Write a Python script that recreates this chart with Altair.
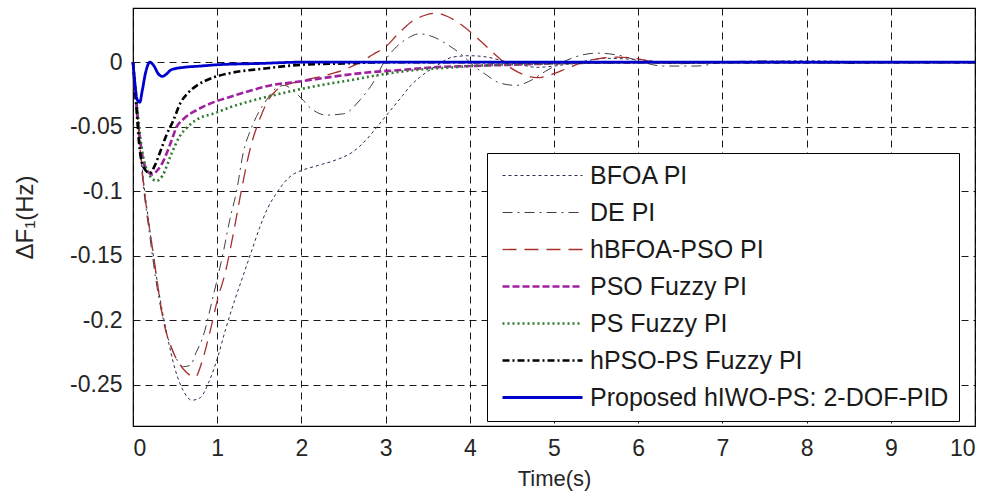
import altair as alt
import pandas as pd

series_names = ["BFOA PI", "DE PI", "hBFOA-PSO PI", "PSO Fuzzy PI",
                "PS Fuzzy PI", "hPSO-PS Fuzzy PI", "Proposed hIWO-PS: 2-DOF-PID"]

bfoa_t = [0, 0.05, 0.1, 0.2, 0.3, 0.4, 0.5, 0.6, 0.7, 0.8, 0.9, 1.0, 1.1, 1.2, 1.3, 1.4,
          1.5, 1.6, 1.7, 1.8, 1.9, 2.0, 2.2, 2.4, 2.6, 2.8, 2.9, 3.0, 3.1, 3.2, 3.3, 3.4,
          3.6, 3.8, 4.0, 4.2, 4.4, 4.6, 4.8, 5.0, 5.3, 5.6, 6.0, 6.5, 7.0, 8.0, 9.0, 10.0]
bfoa_y = [0, -0.03, -0.075, -0.13, -0.175, -0.21, -0.238, -0.255, -0.262, -0.26, -0.248,
          -0.23, -0.207, -0.186, -0.167, -0.148, -0.129, -0.113, -0.102, -0.093, -0.087,
          -0.084, -0.08, -0.076, -0.07, -0.058, -0.05, -0.042, -0.034, -0.026, -0.018,
          -0.012, -0.003, 0.004, 0.005, 0.004, 0.001, -0.002, -0.004, -0.003, 0.0, 0.003,
          0.002, -0.001, 0.0, 0.001, 0.0, 0.0]

de_t = [0, 0.05, 0.1, 0.2, 0.3, 0.4, 0.5, 0.6, 0.68, 0.75, 0.83, 0.95, 1.07, 1.15, 1.23,
        1.31, 1.4, 1.5, 1.6, 1.7, 1.8, 1.9, 2.0, 2.1, 2.3, 2.5, 2.7, 2.85, 3.0, 3.1, 3.25,
        3.4, 3.55, 3.75, 3.9, 4.05, 4.2, 4.35, 4.55, 4.7, 4.9, 5.1, 5.3, 5.5, 5.8, 6.0,
        6.3, 6.7, 7.0, 7.5, 8.0, 8.5, 9.0, 10.0]
de_y = [0, -0.035, -0.08, -0.135, -0.18, -0.21, -0.228, -0.236, -0.235, -0.225, -0.213,
        -0.182, -0.148, -0.122, -0.1, -0.07, -0.052, -0.038, -0.028, -0.02, -0.018, -0.022,
        -0.028, -0.035, -0.041, -0.04, -0.029, -0.016, 0.002, 0.01, 0.018, 0.022, 0.02,
        0.013, 0.006, -0.003, -0.01, -0.016, -0.018, -0.015, -0.007, 0.0, 0.005, 0.007,
        0.005, 0.001, -0.003, -0.003, 0.0, 0.001, 0.0, -0.001, 0.0, 0.0]

hb_t = [0, 0.05, 0.12, 0.24, 0.36, 0.48, 0.6, 0.74, 0.82, 0.91, 1.0, 1.1, 1.2, 1.3, 1.4,
        1.5, 1.6, 1.7, 1.9, 2.1, 2.3, 2.5, 2.7, 2.85, 3.0, 3.15, 3.3, 3.45, 3.6, 3.75, 3.9,
        4.05, 4.2, 4.35, 4.5, 4.65, 4.8, 4.95, 5.15, 5.35, 5.55, 5.75, 5.95, 6.2, 6.5,
        7.0, 8.0, 10.0]
hb_y = [0, -0.04, -0.091, -0.148, -0.2, -0.225, -0.238, -0.244, -0.232, -0.21, -0.185,
        -0.162, -0.13, -0.095, -0.065, -0.045, -0.03, -0.022, -0.016, -0.013, -0.01, -0.006,
        0.0, 0.006, 0.012, 0.022, 0.031, 0.036, 0.038, 0.035, 0.029, 0.021, 0.012, 0.003,
        -0.005, -0.01, -0.012, -0.01, -0.005, 0.0, 0.003, 0.004, 0.003, 0.0, -0.001, 0.0,
        0.0, 0.0]

psof_t = [0, 0.05, 0.1, 0.15, 0.23, 0.3, 0.35, 0.45, 0.52, 0.6, 0.76, 1.0, 1.15, 1.4,
          1.63, 1.98, 2.4, 2.78, 3.2, 3.56, 4.0, 4.5, 5.0, 6.0, 10.0]
psof_y = [0, -0.04, -0.068, -0.082, -0.087, -0.083, -0.078, -0.062, -0.05, -0.044, -0.037,
          -0.03, -0.027, -0.022, -0.018, -0.015, -0.011, -0.008, -0.006, -0.004, -0.003,
          -0.002, -0.001, 0.0, 0.0]

psf_t = [0, 0.05, 0.1, 0.2, 0.28, 0.35, 0.45, 0.55, 0.65, 0.8, 0.95, 1.15, 1.35, 1.71,
         1.98, 2.3, 2.58, 3.0, 3.37, 3.8, 4.3, 5.0, 6.0, 10.0]
psf_y = [0, -0.035, -0.065, -0.088, -0.092, -0.088, -0.072, -0.058, -0.05, -0.043, -0.04,
         -0.035, -0.031, -0.025, -0.021, -0.017, -0.014, -0.009, -0.006, -0.004, -0.002,
         -0.001, 0.0, 0.0]

hpp_t = [0, 0.04, 0.08, 0.13, 0.2, 0.26, 0.32, 0.4, 0.48, 0.56, 0.65, 0.76, 0.95, 1.15,
         1.55, 2.0, 2.5, 3.0, 10.0]
hpp_y = [0, -0.035, -0.068, -0.082, -0.086, -0.08, -0.07, -0.056, -0.045, -0.032, -0.024,
         -0.018, -0.012, -0.0085, -0.005, -0.002, -0.001, 0.0, 0.0]

prop_t = [0, 0.02, 0.05, 0.08, 0.11, 0.15, 0.2, 0.25, 0.3, 0.35, 0.4, 0.45, 0.5, 0.6, 0.8,
          1.0, 1.5, 2.0, 10.0]
prop_y = [0, -0.015, -0.029, -0.031, -0.022, -0.008, 0.0, -0.003, -0.009, -0.011, -0.009,
          -0.006, -0.005, -0.004, -0.003, -0.002, -0.001, 0.0, 0.0]

colors = ["#2a2a55", "#404040", "#a8302c", "#a020a0", "#2e7a2e", "#000000", "#0000cc"]
dashes = [[3, 3], [10, 5, 2, 5], [14, 8], [7, 3], [2, 3], [7, 3, 2, 3], [1, 0]]
widths = [1, 1, 1.3, 2.6, 2.6, 2.6, 2.8]

x_ticks = list(range(0, 11))
y_ticks = [-0.25, -0.2, -0.15, -0.1, -0.05, 0]

all_t = [bfoa_t, de_t, hb_t, psof_t, psf_t, hpp_t, prop_t]
all_y = [bfoa_y, de_y, hb_y, psof_y, psf_y, hpp_y, prop_y]
rows = []
for order, (name, ts, ys) in enumerate(zip(series_names, all_t, all_y)):
    for t, y in zip(ts, ys):
        rows.append({"series": name, "t": t, "y": y, "order": order})
df = pd.DataFrame(rows)

FONT = "Liberation Sans"

chart = alt.Chart(df).mark_line(interpolate="monotone").encode(
    x=alt.X("t:Q", scale=alt.Scale(domain=[0, 10], nice=False, zero=False),
            axis=alt.Axis(title="Time(s)", values=x_ticks, labelExpr="'' + datum.value")),
    y=alt.Y("y:Q", scale=alt.Scale(domain=[-0.282, 0.042], nice=False, zero=False),
            axis=alt.Axis(title="ΔF₁(Hz)", values=y_ticks, labelExpr="'' + datum.value")),
    color=alt.Color("series:N", scale=alt.Scale(domain=series_names, range=colors),
                    legend=alt.Legend(title=None)),
    strokeDash=alt.StrokeDash("series:N", scale=alt.Scale(domain=series_names, range=dashes),
                              legend=alt.Legend(title=None)),
    strokeWidth=alt.StrokeWidth("series:O",
                                scale=alt.Scale(type="ordinal", domain=series_names, range=widths),
                                legend=alt.Legend(title=None)),
    order=alt.Order("order:Q"),
    detail="series:N",
).properties(
    width=842, height=418,
    autosize=alt.AutoSizeParams(type="none"),
    padding={"left": 133, "top": 8, "right": 13, "bottom": 74},
).configure_view(
    stroke="#000000", strokeWidth=1.2
).configure_axis(
    grid=True, gridColor="#000000", gridDash=[7, 5], gridWidth=1, gridOpacity=0.9,
    ticks=False, domain=False,
    labelFont=FONT, labelFontSize=23, labelColor="#262626", labelPadding=11,
    titleFont=FONT, titleFontSize=22, titleColor="#262626", titleFontWeight="normal",
).configure_axisY(
    titlePadding=32, titleFontSize=24
).configure_axisX(
    titlePadding=8
).configure_legend(
    orient="none", legendX=354, legendY=145,
    symbolType="M-8,0L8,0", symbolSize=100, symbolOffset=33,
    labelFont=FONT, labelFontSize=25, labelColor="#1a1a1a", labelOffset=35, labelLimit=600,
    padding=10, rowPadding=11,
    strokeColor="#000000", fillColor="#ffffff", cornerRadius=0,
)

chart.save("out.html", embed_options={"renderer": "svg", "actions": False})
